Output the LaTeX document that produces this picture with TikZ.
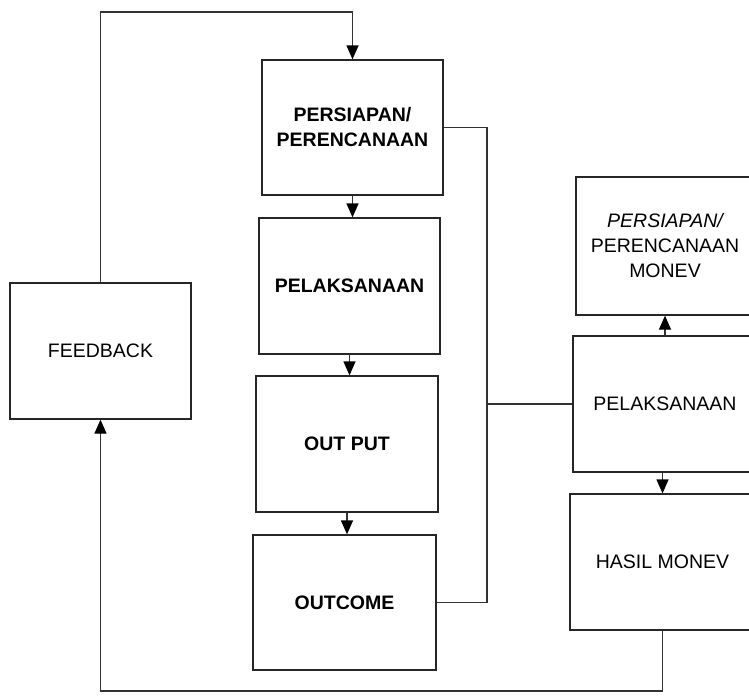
\documentclass[tikz,border=0pt]{standalone}
\usepackage{fontspec}
\setmainfont{Liberation Sans}
\usetikzlibrary{arrows.meta}
\begin{document}
\begin{tikzpicture}[x=1pt,y=-1pt,
  box/.style={draw=black!85, line width=1.3pt, fill=white, rectangle,
    align=center, inner sep=2pt,
    font=\fontsize{19.5}{25}\selectfont},
  boldbox/.style={box, font=\fontsize{19.5}{25}\selectfont\bfseries},
  link/.style={draw=black!80, line width=1.3pt},
  arr/.style={link, -{Triangle[width=12pt,length=14pt,color=black]}}]
\useasboundingbox (0,0) rectangle (749,697);
\fill[white] (0,0) rectangle (749,697);

% main process column
\node[boldbox, minimum width=181pt, minimum height=135pt] (pp) at (352.5,127.5) {PERSIAPAN/\\PERENCANAAN};
\node[boldbox, minimum width=181pt, minimum height=136pt] (pl) at (349.5,286) {PELAKSANAAN};
\node[boldbox, minimum width=182pt, minimum height=136pt] (op) at (347,444) {OUT PUT};
\node[boldbox, minimum width=183pt, minimum height=135pt] (oc) at (344.5,602.5) {OUTCOME};

% feedback box
\node[box, minimum width=181pt, minimum height=136pt] (fb) at (100.5,351) {FEEDBACK};

% monitoring and evaluation column
\node[box, minimum width=178pt, minimum height=138pt] (m1) at (665,246) {{\itshape PERSIAPAN/}\\PERENCANAAN\\MONEV};
\node[box, minimum width=184pt, minimum height=136pt] (m2) at (665,404) {PELAKSANAAN};
\node[box, minimum width=185pt, minimum height=136pt] (m3) at (662.5,562) {HASIL MONEV};

% routing points
\coordinate (top) at (101,12);
\coordinate (bus) at (487,130);
\coordinate (bot) at (660,691);

% column arrows
\draw[arr] (pp.south) -- (pp.south |- pl.north);
\draw[arr] (pl.south) -- (pl.south |- op.north);
\draw[arr] (op.south) -- (op.south |- oc.north);
\draw[arr] (m2.north) -- (m1.south);
\draw[arr] (m2.south -| m3.north) -- (m3.north);

% feedback loop to planning
\draw[arr] (fb.north) -- (fb.north |- top) -| (pp.north);

% bracket joining planning and outcome to monitoring
\draw[link] (pp.east) -- (pp.east -| bus) -- (oc.east -| bus) -- (oc.east);
\draw[link] (m2.west -| bus) -- (m2.west);

% evaluation results back to feedback
\draw[arr] (m3.south) -- (m3.south |- bot) -| (fb.south);
\end{tikzpicture}
\end{document}
